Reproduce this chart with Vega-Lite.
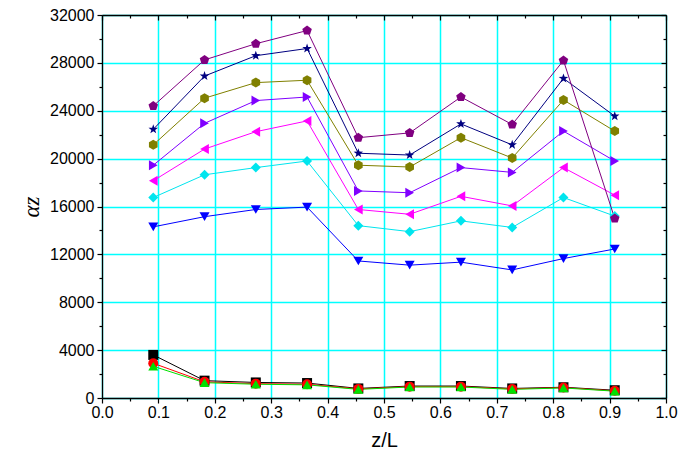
{
  "$schema": "https://vega.github.io/schema/vega-lite/v6.json",
  "width": 564,
  "height": 383,
  "autosize": {"type": "none"},
  "padding": {"left": 102, "top": 15, "right": 33, "bottom": 66},
  "background": "white",
  "config": {
    "view": {"stroke": null},
    "font": "Liberation Sans",
    "axis": {
      "domainColor": "black",
      "domainWidth": 1.3,
      "tickColor": "black",
      "tickWidth": 1.2,
      "labelColor": "black",
      "labelFont": "Liberation Sans",
      "labelFontSize": 16,
      "labelFlush": false,
      "labelOverlap": false,
      "titleColor": "black",
      "titleFontWeight": "normal"
    }
  },
  "data": {
    "values": [
      {"series": "s1", "z": 0.0909, "a": 3600}, {"series": "s1", "z": 0.1818, "a": 1450}, {"series": "s1", "z": 0.2727, "a": 1300}, {"series": "s1", "z": 0.3636, "a": 1250}, {"series": "s1", "z": 0.4545, "a": 800},
      {"series": "s1", "z": 0.5455, "a": 1000}, {"series": "s1", "z": 0.6364, "a": 1000}, {"series": "s1", "z": 0.7273, "a": 800}, {"series": "s1", "z": 0.8182, "a": 900}, {"series": "s1", "z": 0.9091, "a": 650},
      {"series": "s2", "z": 0.0909, "a": 2900}, {"series": "s2", "z": 0.1818, "a": 1350}, {"series": "s2", "z": 0.2727, "a": 1200}, {"series": "s2", "z": 0.3636, "a": 1150}, {"series": "s2", "z": 0.4545, "a": 760},
      {"series": "s2", "z": 0.5455, "a": 950}, {"series": "s2", "z": 0.6364, "a": 950}, {"series": "s2", "z": 0.7273, "a": 760}, {"series": "s2", "z": 0.8182, "a": 870}, {"series": "s2", "z": 0.9091, "a": 600},
      {"series": "s3", "z": 0.0909, "a": 2650}, {"series": "s3", "z": 0.1818, "a": 1280}, {"series": "s3", "z": 0.2727, "a": 1150}, {"series": "s3", "z": 0.3636, "a": 1100}, {"series": "s3", "z": 0.4545, "a": 720},
      {"series": "s3", "z": 0.5455, "a": 920}, {"series": "s3", "z": 0.6364, "a": 920}, {"series": "s3", "z": 0.7273, "a": 720}, {"series": "s3", "z": 0.8182, "a": 840}, {"series": "s3", "z": 0.9091, "a": 570},
      {"series": "s4", "z": 0.0909, "a": 14300}, {"series": "s4", "z": 0.1818, "a": 15150}, {"series": "s4", "z": 0.2727, "a": 15750}, {"series": "s4", "z": 0.3636, "a": 15950}, {"series": "s4", "z": 0.4545, "a": 11450},
      {"series": "s4", "z": 0.5455, "a": 11100}, {"series": "s4", "z": 0.6364, "a": 11350}, {"series": "s4", "z": 0.7273, "a": 10700}, {"series": "s4", "z": 0.8182, "a": 11650}, {"series": "s4", "z": 0.9091, "a": 12450},
      {"series": "s5", "z": 0.0909, "a": 16750}, {"series": "s5", "z": 0.1818, "a": 18650}, {"series": "s5", "z": 0.2727, "a": 19250}, {"series": "s5", "z": 0.3636, "a": 19800}, {"series": "s5", "z": 0.4545, "a": 14400},
      {"series": "s5", "z": 0.5455, "a": 13900}, {"series": "s5", "z": 0.6364, "a": 14800}, {"series": "s5", "z": 0.7273, "a": 14250}, {"series": "s5", "z": 0.8182, "a": 16750}, {"series": "s5", "z": 0.9091, "a": 15200},
      {"series": "s6", "z": 0.0909, "a": 18150}, {"series": "s6", "z": 0.1818, "a": 20800}, {"series": "s6", "z": 0.2727, "a": 22250}, {"series": "s6", "z": 0.3636, "a": 23150}, {"series": "s6", "z": 0.4545, "a": 15750},
      {"series": "s6", "z": 0.5455, "a": 15350}, {"series": "s6", "z": 0.6364, "a": 16850}, {"series": "s6", "z": 0.7273, "a": 16050}, {"series": "s6", "z": 0.8182, "a": 19250}, {"series": "s6", "z": 0.9091, "a": 16950},
      {"series": "s7", "z": 0.0909, "a": 19450}, {"series": "s7", "z": 0.1818, "a": 22950}, {"series": "s7", "z": 0.2727, "a": 24850}, {"series": "s7", "z": 0.3636, "a": 25150}, {"series": "s7", "z": 0.4545, "a": 17300},
      {"series": "s7", "z": 0.5455, "a": 17150}, {"series": "s7", "z": 0.6364, "a": 19250}, {"series": "s7", "z": 0.7273, "a": 18850}, {"series": "s7", "z": 0.8182, "a": 22300}, {"series": "s7", "z": 0.9091, "a": 19800},
      {"series": "s8", "z": 0.0909, "a": 21150}, {"series": "s8", "z": 0.1818, "a": 25050}, {"series": "s8", "z": 0.2727, "a": 26350}, {"series": "s8", "z": 0.3636, "a": 26550}, {"series": "s8", "z": 0.4545, "a": 19450},
      {"series": "s8", "z": 0.5455, "a": 19300}, {"series": "s8", "z": 0.6364, "a": 21750}, {"series": "s8", "z": 0.7273, "a": 20050}, {"series": "s8", "z": 0.8182, "a": 24900}, {"series": "s8", "z": 0.9091, "a": 22300},
      {"series": "s9", "z": 0.0909, "a": 22450}, {"series": "s9", "z": 0.1818, "a": 26900}, {"series": "s9", "z": 0.2727, "a": 28600}, {"series": "s9", "z": 0.3636, "a": 29200}, {"series": "s9", "z": 0.4545, "a": 20450},
      {"series": "s9", "z": 0.5455, "a": 20300}, {"series": "s9", "z": 0.6364, "a": 22900}, {"series": "s9", "z": 0.7273, "a": 21150}, {"series": "s9", "z": 0.8182, "a": 26700}, {"series": "s9", "z": 0.9091, "a": 23550},
      {"series": "s10", "z": 0.0909, "a": 24400}, {"series": "s10", "z": 0.1818, "a": 28250}, {"series": "s10", "z": 0.2727, "a": 29600}, {"series": "s10", "z": 0.3636, "a": 30700}, {"series": "s10", "z": 0.4545, "a": 21750},
      {"series": "s10", "z": 0.5455, "a": 22150}, {"series": "s10", "z": 0.6364, "a": 25150}, {"series": "s10", "z": 0.7273, "a": 22850}, {"series": "s10", "z": 0.8182, "a": 28200}, {"series": "s10", "z": 0.9091, "a": 15000}
    ]
  },
  "layer": [
    {
      "mark": {"type": "line", "strokeWidth": 1},
      "encoding": {
        "x": {
          "field": "z", "type": "quantitative",
          "scale": {"domain": [0, 1], "nice": false, "zero": false},
          "axis": {
            "orient": "bottom",
            "values": [0, 0.1, 0.2, 0.3, 0.4, 0.5, 0.6, 0.7, 0.8, 0.9, 1],
            "format": ".1f",
            "grid": true, "gridColor": "#00FFFF", "gridWidth": 1.5,
            "tickSize": 5, "labelPadding": 1,
            "title": "z/L", "titleFontSize": 20, "titlePadding": 10
          }
        },
        "y": {
          "field": "a", "type": "quantitative",
          "scale": {"domain": [0, 32000], "nice": false},
          "axis": {
            "orient": "left",
            "values": [0, 4000, 8000, 12000, 16000, 20000, 24000, 28000, 32000],
            "format": "d",
            "grid": true, "gridColor": "#00FFFF", "gridWidth": 1.5,
            "tickSize": 5, "labelPadding": 3,
            "title": "αz", "titleFont": "Liberation Serif", "titleFontStyle": "italic",
            "titleFontSize": 23, "titlePadding": 6
          }
        },
        "color": {
          "field": "series", "type": "nominal",
          "scale": {
            "domain": ["s1", "s2", "s3", "s4", "s5", "s6", "s7", "s8", "s9", "s10"],
            "range": ["#000000", "#FF0000", "#00E000", "#0000FF", "#00E5EE", "#FF00FF", "#8000FF", "#808000", "#000080", "#800080"]
          },
          "legend": null
        }
      }
    },
    {
      "mark": {"type": "point", "filled": true, "opacity": 1, "size": 100, "strokeWidth": 0},
      "encoding": {
        "x": {"field": "z", "type": "quantitative", "axis": {"orient": "bottom", "values": [0.05, 0.15, 0.25, 0.35, 0.45, 0.55, 0.65, 0.75, 0.85, 0.95], "labels": false, "grid": false, "domain": false, "tickSize": 3, "title": null}},
        "y": {"field": "a", "type": "quantitative", "axis": {"orient": "left", "values": [2000, 6000, 10000, 14000, 18000, 22000, 26000, 30000], "labels": false, "grid": false, "domain": false, "tickSize": 3, "title": null}},
        "color": {"field": "series", "type": "nominal", "legend": null},
        "shape": {
          "field": "series", "type": "nominal",
          "scale": {
            "domain": ["s1", "s2", "s3", "s4", "s5", "s6", "s7", "s8", "s9", "s10"],
            "range": [
              "square", "circle", "triangle-up", "triangle-down", "diamond", "triangle-left", "triangle-right",
              "M0,-1L0.866,-0.5L0.866,0.5L0,1L-0.866,0.5L-0.866,-0.5Z",
              "M0,-1L0.235,-0.324L0.951,-0.309L0.38,0.124L0.588,0.809L0,0.4L-0.588,0.809L-0.38,0.124L-0.951,-0.309L-0.235,-0.324Z",
              "M0,-1L0.951,-0.309L0.588,0.809L-0.588,0.809L-0.951,-0.309Z"
            ]
          },
          "legend": null
        }
      }
    },
    {
      "mark": {"type": "point", "opacity": 0},
      "encoding": {
        "x": {"field": "z", "type": "quantitative", "axis": {"orient": "top", "values": [0, 0.1, 0.2, 0.3, 0.4, 0.5, 0.6, 0.7, 0.8, 0.9, 1], "labels": false, "grid": false, "tickSize": -5, "title": null}},
        "y": {"field": "a", "type": "quantitative", "axis": {"orient": "right", "values": [0, 4000, 8000, 12000, 16000, 20000, 24000, 28000, 32000], "labels": false, "grid": false, "tickSize": -5, "title": null}}
      }
    },
    {
      "mark": {"type": "point", "opacity": 0},
      "encoding": {
        "x": {"field": "z", "type": "quantitative", "axis": {"orient": "top", "values": [0.05, 0.15, 0.25, 0.35, 0.45, 0.55, 0.65, 0.75, 0.85, 0.95], "labels": false, "grid": false, "domain": false, "tickSize": -3, "title": null}},
        "y": {"field": "a", "type": "quantitative", "axis": {"orient": "right", "values": [2000, 6000, 10000, 14000, 18000, 22000, 26000, 30000], "labels": false, "grid": false, "domain": false, "tickSize": -3, "title": null}}
      }
    }
  ],
  "resolve": {"axis": {"x": "independent", "y": "independent"}}
}
